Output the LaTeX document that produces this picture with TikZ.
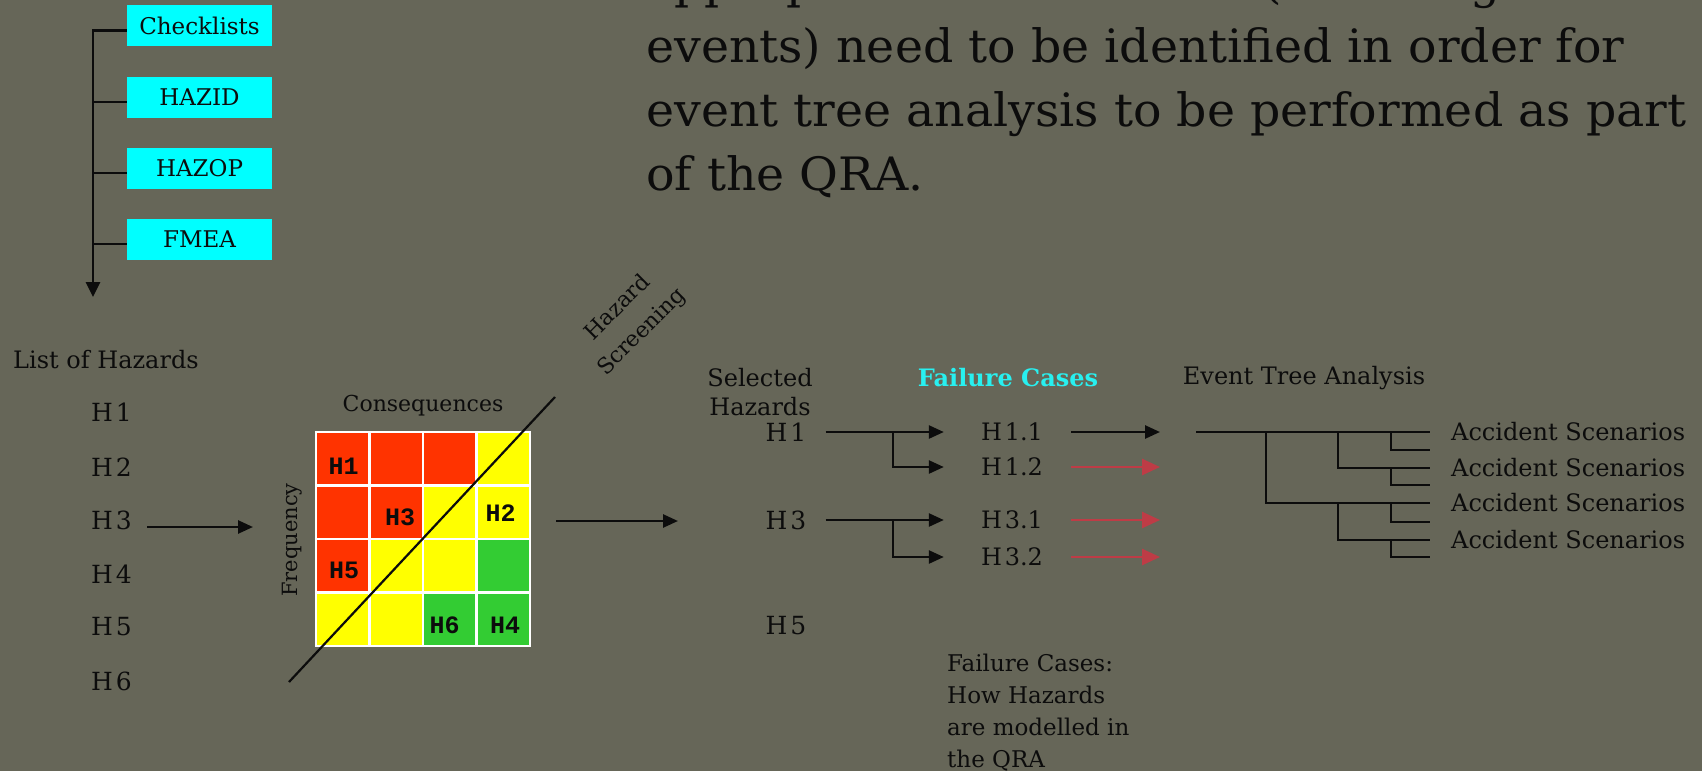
\documentclass[tikz,border=0pt]{standalone}
\usepackage{fontspec}
\setmainfont{DejaVu Serif}
\newfontfamily\bigser[FakeStretch=1.03]{DejaVu Serif}
\newfontfamily\monob{Liberation Mono}
\usetikzlibrary{arrows.meta,calc}
\newcommand\fsz[2]{\fontsize{#1}{#2}\selectfont}
\newcommand\tightsp{\spaceskip 0.12em\relax}
\definecolor{bg}{RGB}{102,102,88}
\definecolor{cyanbox}{RGB}{0,255,255}
\definecolor{mred}{RGB}{255,51,0}
\definecolor{myel}{RGB}{255,255,0}
\definecolor{mgrn}{RGB}{51,204,51}
\definecolor{rarrow}{RGB}{190,60,70}
\definecolor{ink}{RGB}{12,12,12}
\definecolor{fccyan}{RGB}{40,240,240}
\tikzset{
  lbl/.style={inner sep=0pt, text=ink, font=\fsz{24}{29}},
  hlab/.style={inner sep=0pt, text=ink, font=\fsz{25}{30}\tightsp},
  fclab/.style={inner sep=0pt, text=ink, font=\fsz{24}{30}\tightsp},
  mlab/.style={inner sep=0pt, text=ink, font=\monob\bfseries\fsz{25}{30}},
  bigt/.style={inner sep=0pt, text=ink, anchor=base west, font=\bigser\fsz{46}{64}},
  cbox/.style={fill=cyanbox, minimum width=145pt, minimum height=41pt, inner sep=0pt, text=ink, font=\fsz{23}{27}},
  arr/.style={draw=ink, line width=2.6pt, -{Triangle[length=15pt,width=13pt]}},
  rarr/.style={draw=rarrow, line width=2.6pt, -{Triangle[length=18pt,width=16pt]}},
  treeline/.style={draw=ink, line width=2pt},
  spine/.style={draw=ink, line width=2.8pt, -{Triangle[length=15pt,width=14pt]}},
  tick/.style={draw=ink, line width=2.8pt},
}
\begin{document}
\begin{tikzpicture}[x=1pt,y=-1pt]
\useasboundingbox (0,0) rectangle (1702,771);
\fill[bg] (0,0) rectangle (1702,771);
\clip (0,0) rectangle (1702,771);

% header text
\node[bigt] (t1) at (646,-1.5) {appropriate failure cases (initiating};
\node[bigt] (t2) at (646,62.7) {events) need to be identified in order for};
\node[bigt] (t3) at (646,126.7) {event tree analysis to be performed as part};
\node[bigt] (t4) at (646,190.7) {of the QRA.};

% identification techniques
\node[cbox] (chk) at (199.5,25.5) {Checklists};
\node[cbox] (hzd) at (199.5,97) {HAZID};
\node[cbox] (hzp) at (199.5,168) {HAZOP};
\node[cbox] (fme) at (199.5,239) {FMEA};
\coordinate (spinetop) at (93,29);
\coordinate (spinebot) at (93,297);
\draw[spine] (spinetop) -- (spinebot);
\foreach \b in {chk,hzd,hzp,fme}
  \draw[tick] ([yshift=-5pt]\b.west) -- ([yshift=-5pt]\b.west -| spinetop);

% list of hazards
\node[lbl, anchor=west] (loh) at (13,360) {List of Hazards};
\node[hlab, anchor=west] (hl1) at (91,412) {H 1};
\node[hlab, anchor=west] (hl2) at (91,467) {H 2};
\node[hlab, anchor=west] (hl3) at (91,520) {H 3};
\node[hlab, anchor=west] (hl4) at (91,574) {H 4};
\node[hlab, anchor=west] (hl5) at (91,627) {H 5};
\node[hlab, anchor=west] (hl6) at (91,681) {H 6};

% risk matrix
\def\mx{316}\def\my{432}\def\cs{53.5}
\foreach \r/\c/\col in {1/1/mred,1/2/mred,1/3/mred,1/4/myel,
                        2/1/mred,2/2/mred,2/3/myel,2/4/myel,
                        3/1/mred,3/2/myel,3/3/myel,3/4/mgrn,
                        4/1/myel,4/2/myel,4/3/mgrn,4/4/mgrn}
  \fill[\col] ({\mx+(\c-1)*\cs},{\my+(\r-1)*\cs}) rectangle ++(\cs,\cs);
\foreach \i in {0,...,4}{
  \draw[white,line width=2.5pt] ({\mx+\i*\cs},{\my-1.25}) -- ({\mx+\i*\cs},{\my+4*\cs+1.25});
  \draw[white,line width=2.5pt] ({\mx-1.25},{\my+\i*\cs}) -- ({\mx+4*\cs+1.25},{\my+\i*\cs});
}
\node[minimum width=214pt, minimum height=214pt, inner sep=0pt, anchor=north west] (mat) at (\mx,\my) {};
\node[mlab] (m1) at (343.5,466) {H1};
\node[mlab] (m3) at (400,517) {H3};
\node[mlab] (m2) at (500.5,513) {H2};
\node[mlab] (m5) at (344,570) {H5};
\node[mlab] (m6) at (444.5,625) {H6};
\node[mlab] (m4) at (505,625) {H4};
\coordinate (dgA) at (289,682);
\coordinate (dgB) at (555,397);
\draw[ink, line width=2.2pt] (dgA) -- (dgB);
\node[lbl, font=\fsz{22}{26}] (cons) at (423,406) {Consequences};
\node[lbl, font=\fsz{21}{26}, rotate=90] (freq) at (292,540) {Frequency};
\node[lbl, font=\fsz{22}{34}, rotate=45, align=center] (hs) at (630,320) {Hazard\\Screening};

\coordinate (a1s) at (147,527);
\coordinate (a1e) at (253,527);
\draw[arr] (a1s) -- (a1e);
\coordinate (a2s) at (556,521);
\coordinate (a2e) at (678,521);
\draw[arr] (a2s) -- (a2e);

% selected hazards
\node[lbl, align=center] (sel) at (760,392) {Selected\\Hazards};
\node[hlab] (sh1) at (786,432) {H 1};
\node[hlab] (sh3) at (786,520) {H 3};
\node[hlab] (sh5) at (786,626) {H 5};

% failure cases
\node[lbl, font=\bfseries\fsz{24}{29}, text=fccyan] (fct) at (1008,378) {Failure Cases};
\node[fclab] (f11) at (1012,432) {H 1.1};
\node[fclab] (f12) at (1012,467) {H 1.2};
\node[fclab] (f31) at (1012,520) {H 3.1};
\node[fclab] (f32) at (1012,557) {H 3.2};

\draw[arr] ([xshift=19pt]sh1.east) -- ([xshift=-37pt]f11.west);
\draw[arr] ([xshift=19pt]sh3.east) -- ([xshift=-37pt]f31.west);
\coordinate (br1) at (893,432);
\coordinate (br3) at (893,520);
\draw[arr] (br1) |- ([xshift=-37pt]f12.west);
\draw[arr] (br3) |- ([xshift=-37pt]f32.west);

% event tree
\node[lbl] (eta) at (1304,378) {Event Tree Analysis};
\coordinate (root) at (1196,432);
\draw[arr] ([xshift=28pt]f11.east) -- ([xshift=-36pt]root);
\coordinate (r12) at (1160,467);
\coordinate (r31) at (1160,520);
\coordinate (r32) at (1160,557);
\draw[rarr] ([xshift=28pt]f12.east) -- (r12);
\draw[rarr] ([xshift=28pt]f31.east) -- (r31);
\draw[rarr] ([xshift=28pt]f32.east) -- (r32);

\draw[treeline] (root) -- (1430,432);
\draw[treeline] (1266,432) |- (1430,503);
\draw[treeline] (1338,432) |- (1430,468);
\draw[treeline] (1338,503) |- (1430,540);
\foreach \ya/\yb in {432/450,468/485,503/522,540/557}
  \draw[treeline] (1391,\ya) |- (1430,\yb);

\node[lbl, anchor=west] (as1) at (1451,432) {Accident Scenarios};
\node[lbl, anchor=west] (as2) at (1451,468) {Accident Scenarios};
\node[lbl, anchor=west] (as3) at (1451,503) {Accident Scenarios};
\node[lbl, anchor=west] (as4) at (1451,540) {Accident Scenarios};

% note
\node[lbl, font=\fsz{23}{32}, align=left, anchor=north west] (note) at (947,654)
  {Failure Cases:\\How Hazards\\are modelled in\\the QRA};
\end{tikzpicture}
\end{document}
